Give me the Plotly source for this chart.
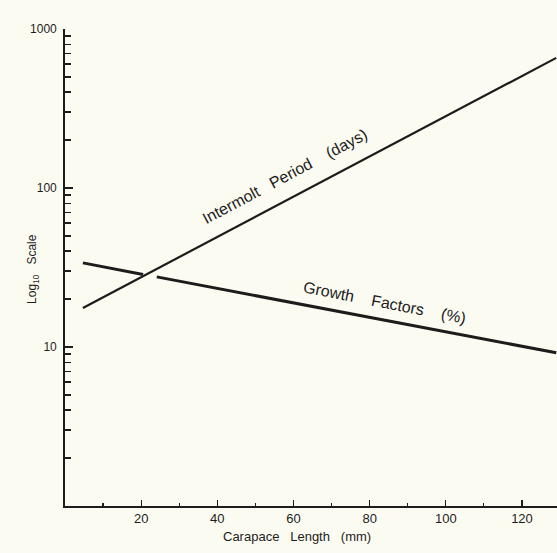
import plotly.graph_objects as go

# Data
intermolt_x = [4.7, 129.0]
intermolt_y = [17.6, 658.0]

growth_x = [4.7, 20.5, None, 24.1, 129.0]
growth_y = [33.8, 28.6, None, 27.6, 9.2]

x_major = [20, 40, 60, 80, 100, 120]
x_major_labels = ["20", "40", "60", "80", "100", "120"]
x_minor = [10, 30, 50, 70, 90, 110, 130]

y_major = [10, 100, 1000]
y_major_labels = ["10", "100", "1000"]
y_minor = [m * d for d in (1, 10, 100) for m in range(2, 10)]

ink = "#1c1c1c"
bg = "#fcfbf2"
font = "Liberation Sans"
sp = "&nbsp;"

fig = go.Figure()
fig.add_trace(go.Scatter(x=intermolt_x, y=intermolt_y, mode="lines",
                         line=dict(color=ink, width=2.2), showlegend=False,
                         hoverinfo="skip"))
fig.add_trace(go.Scatter(x=growth_x, y=growth_y, mode="lines",
                         line=dict(color=ink, width=3), showlegend=False,
                         connectgaps=False, hoverinfo="skip"))

fig.update_layout(
    width=557, height=553,
    margin=dict(l=65, r=0, t=29, b=47),
    paper_bgcolor=bg, plot_bgcolor=bg,
    font=dict(family=font, size=12, color=ink),
    xaxis=dict(
        range=[0, 129.2], showgrid=False, zeroline=False, automargin=False,
        showline=True, linecolor=ink, linewidth=1.8,
        tickmode="array", tickvals=x_major, ticktext=x_major_labels,
        ticks="inside", ticklen=6, tickwidth=1.3, tickcolor=ink,
        minor=dict(tickmode="array", tickvals=x_minor, ticks="inside",
                   ticklen=3, tickwidth=1.2, tickcolor=ink, showgrid=False),
        tickfont=dict(size=13, family=font, color=ink),
    ),
    yaxis=dict(
        type="log", range=[0, 3], showgrid=False, zeroline=False, automargin=False,
        showline=True, linecolor=ink, linewidth=1.8,
        tickmode="array", tickvals=y_major, ticktext=y_major_labels,
        ticks="inside", ticklen=8, tickwidth=1.6, tickcolor=ink,
        minor=dict(tickmode="array", tickvals=y_minor, ticks="inside",
                   ticklen=6, tickwidth=1.6, tickcolor=ink, showgrid=False),
        tickfont=dict(size=12, family=font, color=ink),
        ticklabelstandoff=4,
    ),
    annotations=[
        dict(x=57.7, y=2.07, xref="x", yref="y",
             text=f"Intermolt{sp*3}Period{sp*4}(days)",
             showarrow=False, textangle=-28,
             font=dict(size=16, family=font, color=ink)),
        dict(x=83.8, y=1.28, xref="x", yref="y",
             text=f"Growth{sp*4}Factors{sp*4}(%)",
             showarrow=False, textangle=11,
             font=dict(size=16, family=font, color=ink)),
        dict(x=(297 - 65) / (557 - 65), y=0.0, xref="paper", yref="paper", yshift=-30,
             text=f"Carapace{sp*3}Length{sp*3}(mm)", showarrow=False,
             yanchor="middle",
             font=dict(size=13, family=font, color=ink)),
        dict(x=(33 - 65) / (557 - 65), y=0.497, xref="paper", yref="paper",
             text=f"Log<sub>10</sub>{sp*3}Scale", showarrow=False,
             textangle=-90, xanchor="center", yanchor="middle",
             font=dict(size=12, family=font, color=ink)),
    ],
)

fig.write_html("out.html",
               config={"displayModeBar": False, "staticPlot": True},
               post_script="document.body.style.margin='0';document.body.style.padding='0';document.body.style.overflow='hidden';")
